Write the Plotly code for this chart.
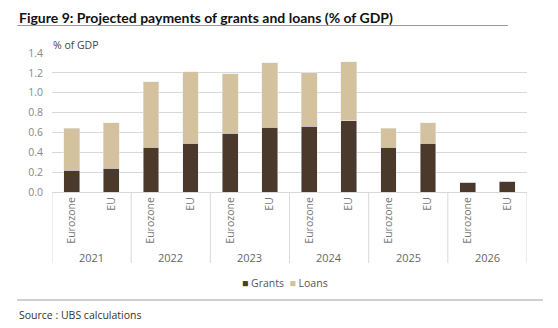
import plotly.graph_objects as go

years = ["2021", "2022", "2023", "2024", "2025", "2026"]
regions = ["Eurozone", "EU"]
grants = [0.22, 0.24, 0.45, 0.49, 0.59, 0.65, 0.66, 0.72, 0.45, 0.49, 0.10, 0.11]
loans = [0.42, 0.46, 0.66, 0.72, 0.60, 0.65, 0.54, 0.59, 0.19, 0.21, 0.00, 0.00]
y_ticks = [0.0, 0.2, 0.4, 0.6, 0.8, 1.0, 1.2, 1.4]

GRANT_C = "#4b3a2b"
LOAN_C = "#d4c29e"
FONT = "Open Sans"
TITLE_FONT = "Lato"

xs = list(range(len(grants)))
xlabels = [regions[i % 2] for i in xs]

W, H = 558, 328
L, R, T, B = 52, 31, 53, 136
ph = H - T - B

def py(px):
    # pixel y -> paper y
    return (H - B - px) / ph

def px_x(px):
    return (px - L) / (W - L - R)

fig = go.Figure()
fig.add_bar(x=xs, y=grants, name="Grants", marker_color=GRANT_C, width=0.4, showlegend=False)
fig.add_bar(x=xs, y=loans, name="Loans", marker_color=LOAN_C, width=0.4, showlegend=False)

shapes = []
for k in range(len(years) + 1):
    xv = -0.5 + 2 * k
    shapes.append(dict(type="line", xref="x", yref="paper", x0=xv, x1=xv,
                       y0=0, y1=py(263), line=dict(color="#d9d9d9", width=1)))
# title rule
shapes.append(dict(type="line", xref="paper", yref="paper", x0=px_x(17), x1=px_x(508),
                   y0=py(25.5), y1=py(25.5), line=dict(color="#9a9a9a", width=1)))
# bottom rule
shapes.append(dict(type="line", xref="paper", yref="paper", x0=px_x(17), x1=px_x(543),
                   y0=py(300), y1=py(300), line=dict(color="#cfcfcf", width=2)))

annotations = []
for i, yr in enumerate(years):
    annotations.append(dict(x=2 * i + 0.5, y=py(257), xref="x", yref="paper", text=yr,
                            showarrow=False, font=dict(family=FONT, size=11, color="#666666"),
                            xanchor="center", yanchor="middle"))
annotations.append(dict(x=px_x(17), y=py(17), xref="paper", yref="paper",
                        text="<b>Figure 9: Projected payments of grants and loans (% of GDP)</b>",
                        showarrow=False, font=dict(family=TITLE_FONT, size=14, color="#111111"),
                        xanchor="left", yanchor="middle"))
annotations.append(dict(x=px_x(51), y=py(45), xref="paper", yref="paper", text="% of GDP",
                        showarrow=False, font=dict(family=FONT, size=10.5, color="#444444"),
                        xanchor="left", yanchor="middle"))
annotations.append(dict(x=px_x(240), y=py(283), xref="paper", yref="paper",
                        text=f"<span style='color:{GRANT_C}'>■</span> Grants  "
                             f"<span style='color:{LOAN_C}'>■</span> Loans",
                        showarrow=False, font=dict(family=FONT, size=10.5, color="#555555"),
                        xanchor="left", yanchor="middle"))
annotations.append(dict(x=px_x(17), y=py(315), xref="paper", yref="paper",
                        text="Source : UBS calculations",
                        showarrow=False, font=dict(family=FONT, size=10.5, color="#333333"),
                        xanchor="left", yanchor="middle"))

fig.update_layout(
    width=W, height=H, barmode="stack",
    margin=dict(l=L, r=R, t=T, b=B, pad=0),
    paper_bgcolor="white", plot_bgcolor="white",
    font=dict(family=FONT, size=10, color="#777777"),
    shapes=shapes, annotations=annotations, showlegend=False,
    xaxis=dict(range=[-0.5, 11.5], tickmode="array", tickvals=xs, ticktext=xlabels,
               tickangle=-90, showgrid=False, showline=True, linecolor="#d9d9d9",
               ticks="", tickfont=dict(family=FONT, size=10.5, color="#777777"), fixedrange=True),
    yaxis=dict(range=[0, 1.4], tickmode="array", tickvals=y_ticks,
               ticktext=[f"{v:.1f}" for v in y_ticks], showgrid=True, gridcolor="#d9d9d9",
               gridwidth=1, zeroline=False, showline=False, ticks="",
               ticklabelstandoff=8,
               tickfont=dict(family=FONT, size=10.5, color="#888888"), fixedrange=True),
)

fig.write_html("out.html")
